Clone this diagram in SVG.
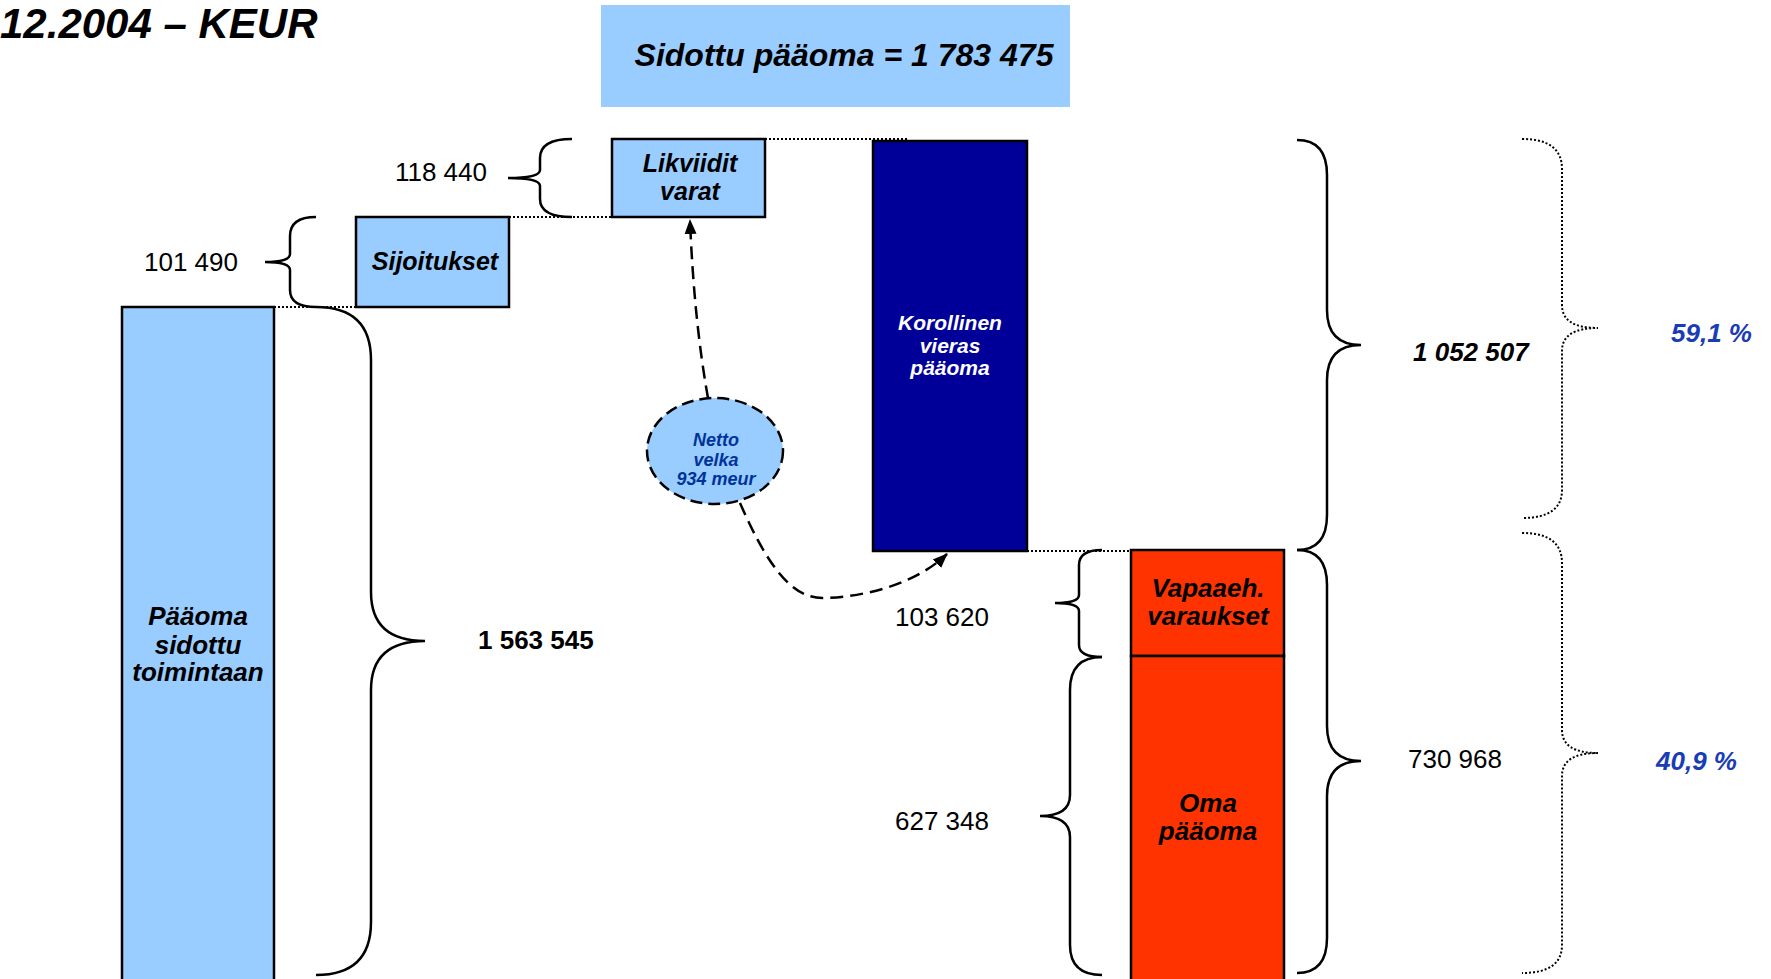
<svg xmlns="http://www.w3.org/2000/svg" width="1771" height="979" viewBox="0 0 1771 979">
<style>
text{font-family:"Liberation Sans",Arial,sans-serif}
.bi{font-weight:bold;font-style:italic}
.n{font-size:26px;fill:#000}
.box{stroke:#000;stroke-width:2.5}
.lb{fill:#99CCFF}
.brace{fill:none;stroke:#000;stroke-width:2.5}
.dbrace{fill:none;stroke:#000;stroke-width:2;stroke-dasharray:2 2}
.dot{fill:none;stroke:#000;stroke-width:2;stroke-dasharray:2 2}
.dash{fill:none;stroke:#000;stroke-width:2.5;stroke-dasharray:13 7}
.pct{font-size:26px;fill:#1a3cb4}
</style>
<defs>
<marker id="arr" viewBox="0 0 15 14" refX="14" refY="7" markerWidth="15" markerHeight="14" markerUnits="userSpaceOnUse" orient="auto">
<path d="M0 1 L15 7 L0 13 Z" fill="#000"/>
</marker>
</defs>
<rect width="1771" height="979" fill="#fff"/>

<text x="0" y="38" class="bi" font-size="42">12.2004 – KEUR</text>

<g id="sidottu">
<rect x="601" y="5" width="469" height="102" fill="#99CCFF"/>
<text x="844" y="66" class="bi" font-size="32" text-anchor="middle">Sidottu pääoma = 1 783 475</text>
</g>

<g id="connectors">
<line x1="765" y1="139" x2="909" y2="139" class="dot"/>
<line x1="509" y1="217" x2="640" y2="217" class="dot"/>
<line x1="274" y1="307" x2="356" y2="307" class="dot"/>
<line x1="1027" y1="551" x2="1150" y2="551" class="dot"/>
<path d="M708 398 Q694 320 690 220" class="dash" marker-end="url(#arr)"/>
<path d="M740 503 C765 560 790 600 825 598 C875 596 920 580 947 554" class="dash" marker-end="url(#arr)"/>
</g>

<g id="paaoma-sidottu">
<rect x="122" y="307" width="152" height="690" class="box lb"/>
<text class="bi" font-size="26" text-anchor="middle"><tspan x="198" y="625">Pääoma</tspan><tspan x="198" y="654">sidottu</tspan><tspan x="198" y="681">toimintaan</tspan></text>
</g>

<g id="sijoitukset">
<rect x="356" y="217" width="153" height="90" class="box lb"/>
<text x="435" y="270" class="bi" font-size="25" text-anchor="middle">Sijoitukset</text>
</g>

<g id="likviidit">
<rect x="612" y="139" width="153" height="78" class="box lb"/>
<text class="bi" font-size="25" text-anchor="middle"><tspan x="690" y="172">Likviidit</tspan><tspan x="690" y="200">varat</tspan></text>
</g>

<g id="korollinen">
<rect x="873" y="141" width="154" height="410" fill="#000099" class="box"/>
<text class="bi" font-size="21" fill="#fff" text-anchor="middle"><tspan x="950" y="330">Korollinen</tspan><tspan x="950" y="353">vieras</tspan><tspan x="950" y="375">pääoma</tspan></text>
</g>

<g id="vapaaeh">
<rect x="1131" y="550" width="153" height="106" fill="#FF3300" class="box"/>
<text class="bi" font-size="26" text-anchor="middle"><tspan x="1208" y="597">Vapaaeh.</tspan><tspan x="1208" y="625">varaukset</tspan></text>
</g>

<g id="oma">
<rect x="1131" y="656" width="153" height="340" fill="#FF3300" class="box"/>
<text class="bi" font-size="26" text-anchor="middle"><tspan x="1208" y="812">Oma</tspan><tspan x="1208" y="840">pääoma</tspan></text>
</g>

<g id="netto">
<ellipse cx="715" cy="451" rx="68" ry="53" fill="#99CCFF" stroke="#000" stroke-width="2.5" stroke-dasharray="12 6"/>
<text class="bi" font-size="18" fill="#003399" text-anchor="middle"><tspan x="716" y="446">Netto</tspan><tspan x="716" y="466">velka</tspan><tspan x="716" y="485">934 meur</tspan></text>
</g>

<g id="braces">
<path d="M572 139 Q540 139 540 158 L540 170 Q540 178 508 178 Q540 178 540 186 L540 199 Q540 217 572 217" class="brace"/>
<path d="M316 217 Q290 217 290 236 L290 254 Q290 262 265 262 Q290 262 290 270 L290 290 Q290 307 316 307" class="brace"/>
<path d="M316 307 Q371 307 371 360 L371 592 Q371 641 425 641 Q371 641 371 690 L371 922 Q371 975 316 975" class="brace"/>
<path d="M1297 140 Q1327 140 1327 175 L1327 310 Q1327 345 1361 345 Q1327 345 1327 380 L1327 515 Q1327 550 1297 550" class="brace"/>
<path d="M1297 550 Q1327 550 1327 585 L1327 726 Q1327 761 1361 761 Q1327 761 1327 796 L1327 938 Q1327 973 1297 973" class="brace"/>
<path d="M1102 550 Q1079 550 1079 565 L1079 595 Q1079 603 1055 603 Q1079 603 1079 611 L1079 645 Q1079 657 1102 657" class="brace"/>
<path d="M1102 657 Q1070 657 1070 690 L1070 795 Q1070 816 1040 816 Q1070 816 1070 837 L1070 945 Q1070 975 1102 975" class="brace"/>
<path d="M1522 139 Q1562 139 1562 169 L1562 305 Q1562 328 1598 328 Q1562 328 1562 351 L1562 490 Q1562 518 1522 518" class="dbrace"/>
<path d="M1522 533 Q1562 533 1562 563 L1562 730 Q1562 753 1598 753 Q1562 753 1562 776 L1562 945 Q1562 973 1522 973" class="dbrace"/>
</g>

<g id="labels">
<text x="487" y="181" class="n" text-anchor="end">118 440</text>
<text x="238" y="271" class="n" text-anchor="end">101 490</text>
<text x="478" y="649" font-size="26" font-weight="bold">1 563 545</text>
<text x="1413" y="361" class="bi" font-size="26">1 052 507</text>
<text x="1408" y="768" class="n">730 968</text>
<text x="989" y="626" class="n" text-anchor="end">103 620</text>
<text x="989" y="830" class="n" text-anchor="end">627 348</text>
<text x="1752" y="342" class="bi pct" text-anchor="end">59,1 %</text>
<text x="1737" y="770" class="bi pct" text-anchor="end">40,9 %</text>
</g>
</svg>
